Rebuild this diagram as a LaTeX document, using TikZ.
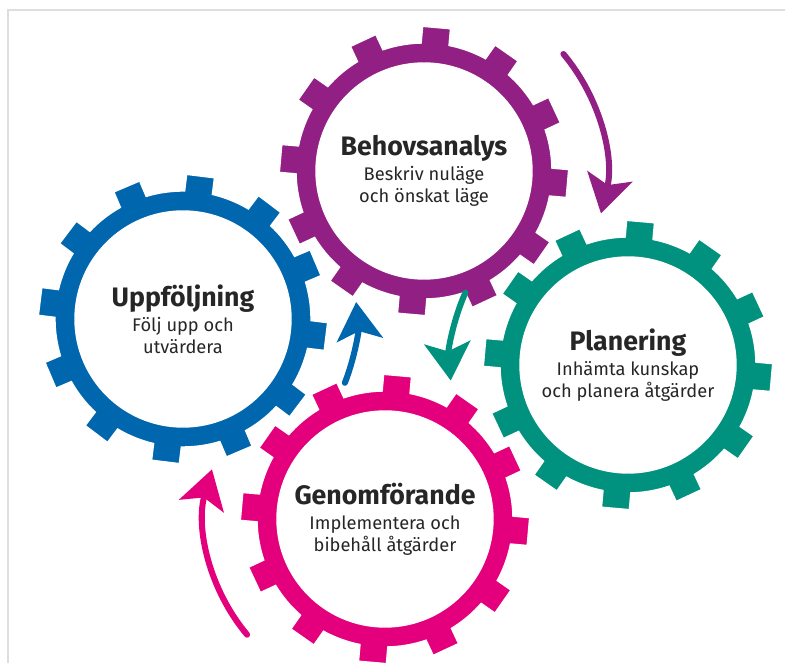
\documentclass[tikz,border=0pt]{standalone}
\usepackage{fontspec}
\setmainfont{Fira Sans}
\usetikzlibrary{arrows.meta}
\pgfdeclarelayer{edgelayer}
\pgfdeclarelayer{nodelayer}
\pgfsetlayers{edgelayer,nodelayer,main}
\definecolor{behov}{RGB}{146,31,131}
\definecolor{plan}{RGB}{0,146,126}
\definecolor{genom}{RGB}{228,0,125}
\definecolor{uppf}{RGB}{0,102,174}
\definecolor{frame}{RGB}{222,222,222}
\tikzstyle{phase}=[align=center, text=black!85, font=\fontsize{13}{15.6}\selectfont]
\tikzstyle{flow}=[line width=4.3pt, line cap=round, -{Stealth[length=9.5mm, width=11.5mm, inset=2.2mm]}]
% gear ring with 12 teeth: #1 centre node, #2 colour, #3 turn of the first tooth
\newcommand{\gearring}[3]{%
	\filldraw [fill=#2, draw=white, line width=1pt, even odd rule]
		([shift={(#1.center)}] {#3-15}:3.2)
		\foreach \i in {0,...,11} {
			arc [start angle={#3-15+30*\i}, end angle={#3-6.28+30*\i}, radius=3.2]
			-- ([shift={(#1.center)}, rotate={#3+30*\i}] 3.6,-0.35)
			-- ([shift={(#1.center)}, rotate={#3+30*\i}] 3.6,0.35)
			-- ([shift={(#1.center)}] {#3+6.28+30*\i}:3.2)
			arc [start angle={#3+6.28+30*\i}, end angle={#3+15+30*\i}, radius=3.2]
		} -- cycle
		(#1.center) circle [radius=2.7];
}

\begin{document}
\begin{tikzpicture}
	\useasboundingbox (0, 0) rectangle (19.625, 16.575);
	\draw [frame, line width=0.8pt] (0.2, 0) -- (0.2, 16.325) -- (19.625, 16.325);
	\begin{pgfonlayer}{nodelayer}
		\node [style=phase] (0) at (10.6, 12.3) {{\fontsize{19}{22}\selectfont\bfseries Behovsanalys}\\[2pt] Beskriv nuläge\\och önskat läge};
		\node [style=phase] (1) at (15.7, 7.45) {{\fontsize{19}{22}\selectfont\bfseries Planering}\\[2pt] Inhämta kunskap\\och planera åtgärder};
		\node [style=phase] (2) at (9.625, 3.6) {{\fontsize{19}{22}\selectfont\bfseries Genomförande}\\[2pt] Implementera och\\bibehåll åtgärder};
		\node [style=phase] (3) at (4.575, 8.6) {{\fontsize{19}{22}\selectfont\bfseries Uppföljning}\\[2pt] Följ upp och\\utvärdera};
	\end{pgfonlayer}
	\begin{pgfonlayer}{edgelayer}
		\gearring{3}{uppf}{-7}
		\gearring{0}{behov}{-5}
		\gearring{1}{plan}{-5}
		\gearring{2}{genom}{-5}
		\draw [style=flow, behov] ([shift={(0.center)}] 40:4.55) arc [start angle=40, end angle=-13.5, radius=4.55];
		\draw [style=flow, plan] ([shift={(1.center)}] 156:4.45) arc [start angle=156, end angle=185, radius=4.45];
		\draw [style=flow, genom] ([shift={(2.center)}] 220:4.5) arc [start angle=220, end angle=164, radius=4.5];
		\draw [style=flow, uppf] ([shift={(3.center)}] -21.5:4.35) arc [start angle=-21.5, end angle=5.6, radius=4.35];
	\end{pgfonlayer}
\end{tikzpicture}
\end{document}
